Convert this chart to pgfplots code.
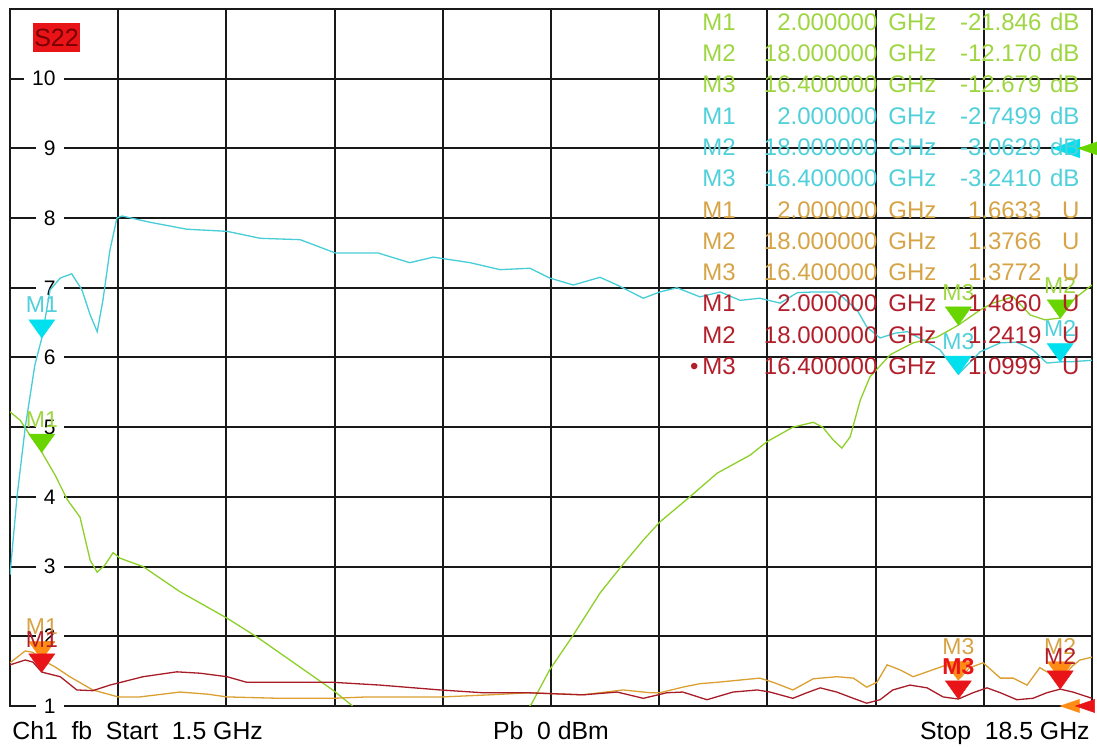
\documentclass[border=0pt]{standalone}
\usepackage{pgfplots}
\pgfplotsset{compat=1.18}
\usepackage{fontspec}
\setmainfont{Liberation Sans}

\definecolor{cgreen}{RGB}{140,208,40}
\definecolor{cgreenT}{RGB}{158,214,66}
\definecolor{cgreenM}{RGB}{104,212,0}
\definecolor{ccyan}{RGB}{70,205,215}
\definecolor{ccyanT}{RGB}{80,208,218}
\definecolor{ccyanM}{RGB}{0,224,238}
\definecolor{corange}{RGB}{218,160,50}
\definecolor{corangeT}{RGB}{214,164,70}
\definecolor{corangeM}{RGB}{255,140,20}
\definecolor{cred}{RGB}{168,28,40}
\definecolor{credT}{RGB}{178,30,42}
\definecolor{credM}{RGB}{232,20,24}
\definecolor{gridc}{RGB}{25,25,25}

\pgfdeclareplotmark{vtri}{%
 \pgfpathmoveto{\pgfpointorigin}%
 \pgfpathlineto{\pgfpoint{-\pgfplotmarksize}{1.4\pgfplotmarksize}}%
 \pgfpathlineto{\pgfpoint{\pgfplotmarksize}{1.4\pgfplotmarksize}}%
 \pgfpathclose\pgfusepathqfillstroke}
\pgfdeclareplotmark{ltri}{%
 \pgfpathmoveto{\pgfpointorigin}%
 \pgfpathlineto{\pgfpoint{1.6\pgfplotmarksize}{0.55\pgfplotmarksize}}%
 \pgfpathlineto{\pgfpoint{1.6\pgfplotmarksize}{-0.55\pgfplotmarksize}}%
 \pgfpathclose\pgfusepathqfillstroke}

\pgfplotsset{
 mk/.style n args={3}{only marks, mark=vtri, mark size=6.5pt,
   mark options={fill=#1, draw=#1, line width=0.2pt},
   nodes near coords={#3},
   every node near coord/.append style={anchor=base, yshift=12.5pt, inner sep=0pt,
     text=#2, font=\fontsize{11.5}{13}\selectfont}},
 rf/.style={only marks, mark=ltri, mark size=8.5pt, mark options={fill=#1, draw=#1, line width=0.2pt}},
}

\newcommand\mr[5]{\makebox[30pt][l]{\color{#1}#2}\makebox[57.5pt][r]{\color{#1}#3}\hspace{5.5pt}\makebox[25pt][l]{\color{#1}GHz}\makebox[51.5pt][r]{\color{#1}#4}\makebox[19pt][r]{\color{#1}#5}}

\begin{document}
\begin{tikzpicture}
\useasboundingbox (-5pt,-20.5pt) rectangle (543.5pt,353pt);
\begin{axis}[at={(0pt,0pt)}, anchor=south west,
 scale only axis, width=541pt, height=348.5pt,
 xmin=1.5, xmax=18.5, ymin=1, ymax=11,
 xtick={1.5,3.2,4.9,6.6,8.3,10,11.7,13.4,15.1,16.8,18.5},
 xticklabels={},
 ytick={1,...,10},
 grid=major,
 major grid style={line width=1pt, color=gridc},
 axis line style={line width=1pt, color=gridc},
 major tick length=0pt,
 /pgf/number format/assume math mode=true,
 yticklabel style={anchor=east, xshift=27pt, fill=white, inner xsep=4pt, inner ysep=1.5pt,
   font=\fontsize{10.5}{12}\selectfont, text=black},
 every axis plot/.append style={line width=0.65pt},
]
% traces
\addplot[cgreen] coordinates {(1.50,5.22)(1.66,5.10)(1.81,4.89)(2.00,4.64)(2.21,4.31)(2.40,3.96)(2.60,3.71)(2.76,3.09)(2.87,2.92)(2.99,3.02)(3.12,3.20)(3.23,3.12)(3.59,3.00)(4.17,2.64)(4.91,2.26)(5.38,1.99)(6.57,1.23)(6.87,1.01)(7.03,0.80)(9.51,0.80)(9.70,1.04)(9.98,1.52)(10.33,1.99)(10.77,2.62)(11.12,3.02)(11.45,3.38)(11.71,3.64)(12.18,4.00)(12.61,4.34)(13.13,4.60)(13.39,4.79)(13.80,5.00)(14.12,5.07)(14.27,5.00)(14.43,4.82)(14.57,4.70)(14.70,4.86)(14.86,5.39)(15.01,5.72)(15.33,6.04)(15.69,6.21)(16.06,6.29)(16.40,6.464)(16.74,6.68)(16.94,6.78)(17.26,6.87)(17.53,6.61)(17.76,6.54)(18.00,6.566)(18.23,6.85)(18.50,7.04)};
\addplot[ccyan] coordinates {(1.50,2.88)(1.61,4.00)(1.74,5.00)(1.89,5.89)(2.00,6.28)(2.13,6.97)(2.29,7.14)(2.47,7.20)(2.63,6.97)(2.76,6.61)(2.87,6.37)(2.96,6.82)(3.07,7.54)(3.18,8.00)(3.26,8.03)(3.70,7.94)(4.28,7.84)(4.91,7.81)(5.43,7.71)(6.06,7.69)(6.61,7.50)(7.28,7.50)(7.78,7.36)(8.15,7.44)(8.73,7.36)(9.20,7.26)(9.67,7.28)(9.98,7.14)(10.35,7.04)(10.77,7.15)(11.04,7.04)(11.45,6.85)(11.71,6.94)(11.98,7.00)(12.34,6.87)(12.66,6.94)(12.97,6.82)(13.28,6.85)(13.60,6.78)(13.87,6.93)(14.12,6.94)(14.49,6.94)(14.81,6.68)(14.96,6.44)(15.17,6.28)(15.41,6.35)(15.60,6.37)(15.85,6.25)(16.11,6.11)(16.40,5.759)(16.74,6.08)(17.06,6.21)(17.32,6.22)(17.57,6.11)(17.79,5.92)(18.00,5.937)(18.20,5.94)(18.50,5.96)};
\addplot[corange] coordinates {(1.50,1.62)(1.74,1.79)(1.86,1.77)(2.00,1.6633)(2.21,1.56)(2.44,1.42)(2.80,1.23)(3.20,1.13)(3.54,1.13)(4.17,1.20)(4.60,1.17)(4.91,1.13)(5.74,1.11)(6.57,1.11)(7.11,1.13)(7.63,1.13)(8.30,1.13)(9.04,1.16)(9.67,1.19)(10.50,1.16)(11.13,1.23)(11.56,1.19)(11.71,1.19)(12.07,1.27)(12.34,1.32)(12.61,1.34)(13.28,1.40)(13.49,1.34)(13.80,1.23)(14.12,1.39)(14.49,1.42)(14.75,1.40)(14.96,1.27)(15.12,1.34)(15.28,1.59)(15.48,1.52)(15.69,1.42)(16.00,1.52)(16.22,1.59)(16.40,1.3772)(16.58,1.55)(16.79,1.62)(17.06,1.40)(17.26,1.40)(17.48,1.30)(17.68,1.55)(18.00,1.3766)(18.19,1.57)(18.31,1.66)(18.50,1.70)};
\addplot[cred] coordinates {(1.50,1.59)(1.74,1.66)(1.86,1.63)(2.00,1.486)(2.29,1.42)(2.55,1.23)(2.80,1.22)(3.07,1.30)(3.20,1.33)(3.59,1.42)(4.12,1.49)(4.49,1.47)(4.91,1.42)(5.22,1.34)(6.57,1.34)(7.31,1.30)(8.26,1.23)(8.93,1.19)(9.62,1.19)(10.50,1.16)(11.04,1.20)(11.45,1.11)(11.82,1.19)(12.07,1.20)(12.45,1.09)(12.86,1.20)(13.24,1.23)(13.44,1.20)(13.80,1.11)(14.02,1.19)(14.23,1.26)(14.49,1.20)(14.75,1.11)(14.96,1.04)(15.17,1.09)(15.37,1.23)(15.64,1.30)(15.91,1.26)(16.16,1.13)(16.40,1.0999)(16.63,1.19)(16.85,1.26)(17.06,1.19)(17.32,1.09)(17.57,1.11)(17.79,1.19)(18.00,1.2419)(18.20,1.20)(18.50,1.11)};
% reference arrows
\addplot[rf=ccyanM] coordinates {(17.88,9)};
\addplot[rf=cgreenM] coordinates {(18.28,9)};
\addplot[rf=corangeM, mark size=6pt] coordinates {(18.00,1)};
\addplot[rf=credM, mark size=6pt] coordinates {(18.24,1)};
% markers
\addplot[mk={cgreenM}{cgreenT}{M1}] coordinates {(2.0,4.64)};
\addplot[mk={cgreenM}{cgreenT}{M2}] coordinates {(18.0,6.566)};
\addplot[mk={cgreenM}{cgreenT}{M3}] coordinates {(16.4,6.464)};
\addplot[mk={ccyanM}{ccyanT}{M1}] coordinates {(2.0,6.28)};
\addplot[mk={ccyanM}{ccyanT}{M2}] coordinates {(18.0,5.937)};
\addplot[mk={ccyanM}{ccyanT}{M3}] coordinates {(16.4,5.759)};
\addplot[mk={corangeM}{corangeT}{M1}] coordinates {(2.0,1.6633)};
\addplot[mk={corangeM}{corangeT}{M2}] coordinates {(18.0,1.3766)};
\addplot[mk={corangeM}{corangeT}{M3}] coordinates {(16.4,1.3772)};
\addplot[mk={credM}{credT}{M1}] coordinates {(2.0,1.486)};
\addplot[mk={credM}{credT}{M2}] coordinates {(18.0,1.2419)};
\addplot[mk={credM}{credM}{\bfseries M3}] coordinates {(16.4,1.0999)};
\end{axis}
% S22 box
\node[fill=credM, text={rgb,255:red,120;green,0;blue,0}, minimum width=23.5pt, minimum height=14.5pt, inner sep=0pt,
  font=\fontsize{12.5}{14}\selectfont] at (23.25pt,334.25pt) {S22};
% marker readout
\node[anchor=north west, inner sep=0pt, font=\fontsize{12}{15.65}\selectfont] at (346pt,349pt) {%
\begin{tabular}{@{}l@{}}
\mr{cgreenT}{M1}{2.000000}{-21.846}{dB}\\
\mr{cgreenT}{M2}{18.000000}{-12.170}{dB}\\
\mr{cgreenT}{M3}{16.400000}{-12.679}{dB}\\
\mr{ccyanT}{M1}{2.000000}{-2.7499}{dB}\\
\mr{ccyanT}{M2}{18.000000}{-3.0629}{dB}\\
\mr{ccyanT}{M3}{16.400000}{-3.2410}{dB}\\
\mr{corangeT}{M1}{2.000000}{1.6633}{U}\\
\mr{corangeT}{M2}{18.000000}{1.3766}{U}\\
\mr{corangeT}{M3}{16.400000}{1.3772}{U}\\
\mr{credT}{M1}{2.000000}{1.4860}{U}\\
\mr{credT}{M2}{18.000000}{1.2419}{U}\\
\mr{credT}{\llap{\textbullet\,}M3}{16.400000}{1.0999}{U}
\end{tabular}};
% bottom status line
\begin{scope}[every node/.style={inner sep=0pt, font=\fontsize{12.4}{14}\selectfont}]
\node[anchor=base west] at (1pt,-17pt) {Ch1\hspace{0.55em}fb\hspace{0.55em}Start\hspace{0.55em}1.5 GHz};
\node[anchor=base] at (270.5pt,-17pt) {Pb\hspace{0.55em}0 dBm};
\node[anchor=base east] at (540pt,-17pt) {Stop\hspace{0.55em}18.5 GHz};
\end{scope}
\end{tikzpicture}
\end{document}
